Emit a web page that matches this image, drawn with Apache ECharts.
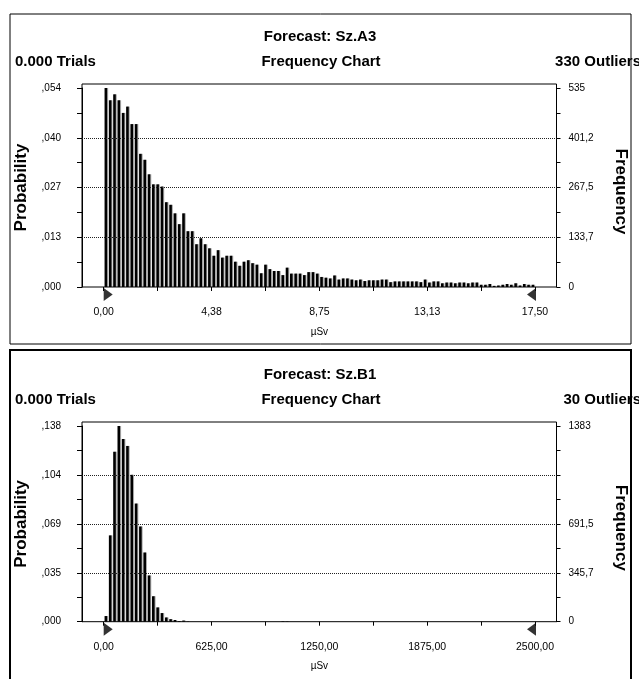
<!DOCTYPE html>
<html><head><meta charset="utf-8">
<script src="https://cdn.jsdelivr.net/npm/echarts@6/dist/echarts.min.js"></script>
<style>html,body{margin:0;padding:0;background:#fff}#c{width:639px;height:679px}</style>
</head><body><div id="c"></div>
<script>
// ---------- data ----------
const a3Freq = [535,502,518,502,468,485,438,438,358,342,303,276,276,270,228,221,198,169,198,150,150,115,131,115,104,84,99,79,84,84,68,57,68,72,64,60,37,60,48,43,43,32,52,36,36,36,32,40,40,36,
  27,25,23,31,20,23,23,20,18,20,16,18,18,18,20,20,13,15,15,15,15,15,15,13,20,12,15,15,10,12,12,10,12,12,10,12,12,6,6,8,3,4,6,8,6,10,4,8,6,6];
const b1Freq = [40,610,1201,1383,1291,1242,1038,835,673,489,327,180,101,61,30,18,12,5,8,2,
  0,0,0,0,0,0,0,0,0,0,0,0,0,0,0,0,0,0,0,0,0,3,2,0,0,0,0,0,0,0,
  0,0,0,0,0,0,0,0,0,0,0,0,0,0,0,0,0,0,0,0,0,0,0,0,0,0,0,0,0,0,
  0,0,0,0,0,0,0,0,0,0,0,0,0,0,0,0,0,0,0,0];
const a3BinWidth = 0.175;
const b1BinWidth = 25;
const a3XMax = 17.5, b1XMax = 2500;
const a3XLabels = ['0,00','4,38','8,75','13,13','17,50'];
const b1XLabels = ['0,00','625,00','1250,00','1875,00','2500,00'];
const a3ProbLabels = [',000',',013',',027',',040',',054'];
const a3FreqLabels = ['0','133,7','267,5','401,2','535'];
const b1ProbLabels = [',000',',035',',069',',104',',138'];
const b1FreqLabels = ['0','345,7','691,5','','1383'];
const a3MaxFreq = 535, b1MaxFreq = 1383;
const a3Texts = {title:'Forecast: Sz.A3', trials:'0.000 Trials', sub:'Frequency Chart', outliers:'330 Outliers'};
const b1Texts = {title:'Forecast: Sz.B1', trials:'0.000 Trials', sub:'Frequency Chart', outliers:'30 Outliers'};
const xUnit = 'µSv';
const yNameLeft = 'Probability', yNameRight = 'Frequency';

// ---------- layout ----------
const FONT = "'Liberation Sans', Arial, sans-serif";
const panels = [
  {d:{freq:a3Freq, bw:a3BinWidth, xMax:a3XMax, xLabels:a3XLabels, prob:a3ProbLabels, fl:a3FreqLabels, maxF:a3MaxFreq, t:a3Texts},
   L:{boxTop:14, boxBottom:344, titleY:37, subY:62, frameTop:84, maxY:88, baseY:287}},
  {d:{freq:b1Freq, bw:b1BinWidth, xMax:b1XMax, xLabels:b1XLabels, prob:b1ProbLabels, fl:b1FreqLabels, maxF:b1MaxFreq, t:b1Texts},
   L:{boxTop:350, boxBottom:700, titleY:375, subY:400, frameTop:422, maxY:426, baseY:621.7}}
];
const FRAME_L = 82, FRAME_R = 556.5, AX0 = 103.7, AX1 = 535;

const grid = [], xAxis = [], yAxis = [], series = [], graphic = [];
panels.forEach((p, k) => {
  const d = p.d, L = p.L;
  const h = L.baseY - L.maxY;
  const step = d.maxF / 4;
  grid.push({left:FRAME_L, top:L.maxY, width:FRAME_R-FRAME_L, height:h});
  grid.push({left:AX0, top:L.maxY, width:AX1-AX0, height:h});
  const g0 = 2*k, g1 = 2*k+1;
  xAxis.push({gridIndex:g0, type:'value', min:0, max:1, show:false});
  xAxis.push({gridIndex:g1, type:'value', min:0, max:d.xMax, interval:d.xMax/4,
    axisLine:{show:false}, splitLine:{show:false},
    axisTick:{show:true, length:4, lineStyle:{color:'#000'}},
    minorTick:{show:true, splitNumber:2, length:4, lineStyle:{color:'#000'}},
    axisLabel:{fontSize:10.5, color:'#000', fontFamily:FONT, margin:20,
      formatter:(v)=>{const i=Math.round(v/(d.xMax/4)); return Math.abs(v-i*d.xMax/4)<1e-9 ? d.xLabels[i] : '';}},
    name:xUnit, nameLocation:'middle', nameGap:40, nameTextStyle:{fontSize:10, color:'#000', fontFamily:FONT}});
  const yBase = {type:'value', min:0, max:d.maxF, interval:step};
  const labFmt = (arr)=>(v)=>{const i=Math.round(v/step); return Math.abs(v-i*step)<1e-6 && i<arr.length ? arr[i] : '';};
  yAxis.push(Object.assign({}, yBase, {gridIndex:g0, position:'left',
    axisLine:{show:true, lineStyle:{color:'#000'}},
    axisTick:{show:true, length:5, lineStyle:{color:'#000'}},
    minorTick:{show:true, splitNumber:2, length:5, lineStyle:{color:'#000'}},
    splitLine:{show:false},
    axisLabel:{fontSize:10, color:'#000', fontFamily:FONT, margin:21, formatter:labFmt(d.prob)}}));
  yAxis.push(Object.assign({}, yBase, {gridIndex:g0, position:'right',
    axisLine:{show:true, lineStyle:{color:'#000'}},
    axisTick:{show:true, length:4, lineStyle:{color:'#000'}},
    minorTick:{show:true, splitNumber:2, length:4, lineStyle:{color:'#000'}},
    splitLine:{show:false},
    axisLabel:{fontSize:10, color:'#000', fontFamily:FONT, margin:12, formatter:labFmt(d.fl)}}));
  yAxis.push(Object.assign({}, yBase, {gridIndex:g1, show:false}));
  // dotted inner gridlines across the full frame
  series.push({type:'line', xAxisIndex:g0, yAxisIndex:3*k, data:[], silent:true, animation:false,
    markLine:{symbol:'none', silent:true, animation:false, label:{show:false},
      lineStyle:{color:'#222', type:[1,1], width:1},
      data:[1,2,3].map(m=>({yAxis:m*step}))}});
  const yi = 3*k+2;
  series.push({type:'bar', xAxisIndex:g1, yAxisIndex:yi, barWidth:2.6,
    itemStyle:{color:'#000', shadowColor:'#aaa', shadowOffsetX:1, shadowBlur:0},
    data:d.freq.map((f,i)=>[(i+0.5)*d.bw, f]), animation:false, z:3});
  series.push({type:'scatter', xAxisIndex:g1, yAxisIndex:yi, clip:false, silent:true, animation:false, z:4,
    symbolSize:[9,13], itemStyle:{color:'#000'},
    data:[{value:[0,0], symbol:'path://M0 0L10 6L0 12Z', symbolOffset:[4.5,7.5]},
          {value:[d.xMax,0], symbol:'path://M10 0L0 6L10 12Z', symbolOffset:[-3.5,7.5]}]});
  // plot frame
  graphic.push({type:'rect', shape:{x:FRAME_L, y:L.frameTop, width:FRAME_R-FRAME_L, height:L.baseY-L.frameTop},
    style:{fill:null, stroke:'#000', lineWidth:1}, silent:true, z:5});
  // panel box
  graphic.push({type:'rect', shape:{x:10, y:L.boxTop, width:621, height:L.boxBottom-L.boxTop},
    style:{fill:null, stroke:'#000', lineWidth:k===0?1:2}, silent:true});
  const tb = {fontFamily:FONT, fontWeight:'bold', fontSize:15, fill:'#000', textVerticalAlign:'middle'};
  graphic.push({type:'text', x:320, y:L.titleY, style:Object.assign({text:d.t.title, textAlign:'center'}, tb)});
  graphic.push({type:'text', x:15, y:L.subY, style:Object.assign({text:d.t.trials, textAlign:'left'}, tb)});
  graphic.push({type:'text', x:321, y:L.subY, style:Object.assign({text:d.t.sub, textAlign:'center'}, tb)});
  graphic.push({type:'text', x:641, y:L.subY, style:Object.assign({text:d.t.outliers, textAlign:'right'}, tb)});
  const midY = (L.maxY + L.baseY)/2;
  graphic.push({type:'text', x:21, y:midY, rotation:Math.PI/2, style:Object.assign({}, tb, {text:yNameLeft, textAlign:'center', fontSize:17})});
  graphic.push({type:'text', x:621, y:midY+4, rotation:-Math.PI/2, style:Object.assign({}, tb, {text:yNameRight, textAlign:'center', fontSize:17})});
});

const chart = echarts.init(document.getElementById('c'), null, {renderer:'canvas'});
chart.setOption({animation:false, backgroundColor:'#fff', grid, xAxis, yAxis, series, graphic});
</script></body></html>
